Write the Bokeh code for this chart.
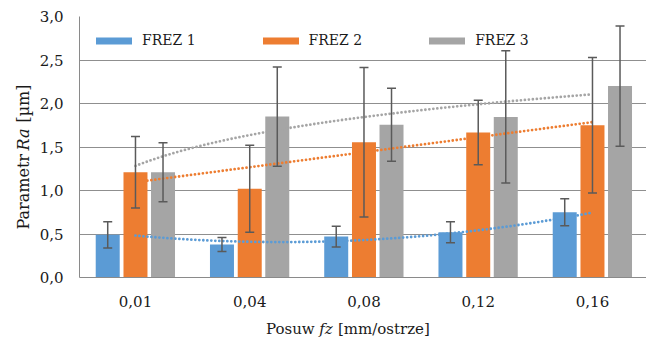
import numpy as np
from bokeh.plotting import figure
from bokeh.layouts import row, column
from bokeh.models import (ColumnDataSource, Whisker, TeeHead, FixedTicker, Legend,
                          LegendItem, Label, Range1d)
from bokeh.embed import file_html
from bokeh.resources import INLINE

# ---- data ----
categories = ["0,01", "0,04", "0,08", "0,12", "0,16"]
frez1 = [0.49, 0.38, 0.47, 0.52, 0.75]
frez1_err = [0.15, 0.08, 0.12, 0.12, 0.155]
frez2 = [1.21, 1.02, 1.555, 1.667, 1.75]
frez2_err = [0.41, 0.50, 0.86, 0.37, 0.78]
frez3 = [1.21, 1.85, 1.755, 1.845, 2.20]
frez3_err = [0.34, 0.57, 0.42, 0.76, 0.69]
series_names = ["FREZ 1", "FREZ 2", "FREZ 3"]
y_ticks = [0.0, 0.5, 1.0, 1.5, 2.0, 2.5, 3.0]
y_tick_labels = ["0,0", "0,5", "1,0", "1,5", "2,0", "2,5", "3,0"]

colors = ["#5B9BD5", "#ED7D31", "#A5A5A5"]
err_color = "#5a5a5a"
text_color = "#1a1a1a"
FONT = "DejaVu Serif"

TOTAL_W, TOTAL_H = 646, 338
WY = 36                  # strip holding the y title
FRAME_L, FRAME_T, FRAME_B = 79, 16, 277
HP = 314                 # main chart height
PW = TOTAL_W - WY
px_per_cat = 114.25
frame_w = PW - (FRAME_L - WY)
x_start = 0.01

p = figure(width=PW, height=HP, output_backend="svg", toolbar_location=None,
           x_range=Range1d(x_start, x_start + frame_w / px_per_cat), y_range=Range1d(0, 3.0),
           min_border_left=FRAME_L - WY, min_border_right=0, min_border_top=FRAME_T,
           min_border_bottom=HP - FRAME_B)
p.outline_line_color = None
p.background_fill_color = "white"
p.border_fill_color = "white"

centers = np.arange(len(categories)) + 0.5
offsets = [-0.243, 0.0, 0.241]
bar_w = 0.21

all_vals = [frez1, frez2, frez3]
all_errs = [frez1_err, frez2_err, frez3_err]
bar_renderers = []
for vals, errs, off, col in zip(all_vals, all_errs, offsets, colors):
    src = ColumnDataSource(dict(x=centers + off, top=vals,
                                upper=np.array(vals) + np.array(errs),
                                lower=np.array(vals) - np.array(errs)))
    r = p.vbar(x="x", top="top", width=bar_w, source=src, fill_color=col,
               line_color=col, line_width=0)
    bar_renderers.append((r, src))

# trendlines (fits of the bar values, as spreadsheet trendlines are)
idx = np.arange(1, len(categories) + 1)
xs = np.linspace(1, 5, 80)
t1 = np.polyval(np.polyfit(idx, frez1, 2), xs)
t2 = np.polyval(np.polyfit(idx, frez2, 1), xs)
t3 = np.polyval(np.polyfit(np.log(idx), frez3, 1), np.log(xs))
for t, col in zip([t1, t2, t3], colors):
    p.line(xs - 0.5, t, line_color=col, line_width=2.8, line_dash="0 4", line_cap="round")

for (r, src) in bar_renderers:
    w = Whisker(base="x", upper="upper", lower="lower", source=src, dimension="height",
                line_color=err_color, line_width=1.5, level="overlay",
                upper_head=TeeHead(size=9, line_color=err_color, line_width=1.5),
                lower_head=TeeHead(size=9, line_color=err_color, line_width=1.5))
    p.add_layout(w)

# axes
p.xgrid.visible = False
p.ygrid.grid_line_color = "#8f8f8f"
p.ygrid.grid_line_width = 1
p.yaxis.ticker = FixedTicker(ticks=y_ticks)
p.yaxis.major_label_overrides = {t: l for t, l in zip(y_ticks, y_tick_labels)}
p.xaxis.ticker = FixedTicker(ticks=list(centers))
p.xaxis.major_label_overrides = {float(c): l for c, l in zip(centers, categories)}
for ax in (p.xaxis, p.yaxis):
    ax.major_tick_in = 0
    ax.major_tick_out = 0
    ax.minor_tick_in = 0
    ax.minor_tick_out = 0
    ax.axis_line_color = "#8a8a8a"
    ax.axis_line_width = 1
    ax.major_label_text_font = FONT
    ax.major_label_text_font_size = "15px"
    ax.major_label_text_color = text_color
p.yaxis.major_label_standoff = 16
p.xaxis.major_label_standoff = 18

# legend
legend = Legend(items=[LegendItem(label=n, renderers=[r]) for n, (r, _) in zip(series_names, bar_renderers)],
                orientation="horizontal", location=(12, 229), padding=0, margin=0,
                spacing=62, glyph_width=45, glyph_height=9, label_standoff=6,
                label_text_font=FONT, label_text_font_size="14px", label_text_color=text_color,
                background_fill_alpha=0, border_line_alpha=0)
p.add_layout(legend)

# ---- x title strip ----
XH = TOTAL_H - HP
xfig = figure(width=PW, height=XH, output_backend="svg", toolbar_location=None, title=None,
              x_range=Range1d(0, PW), y_range=Range1d(0, XH),
              x_axis_location=None, y_axis_location=None,
              min_border=0, min_border_left=0, min_border_right=0,
              min_border_top=0, min_border_bottom=0)
xfig.outline_line_color = None
xfig.grid.visible = False
S = 15
xb = TOTAL_H - 328.0
x_parts = [("Posuw", "normal", 289.0 - WY, "right"),
           ("fz", "italic", 294.0 - WY, "left"),
           ("[mm/ostrze]", "normal", 314.0 - WY, "left")]
for txt, style, xx, al in x_parts:
    xfig.add_layout(Label(x=xx, y=xb, text=txt, text_font=FONT, text_font_style=style,
                          text_font_size=f"{S}px", text_color=text_color,
                          text_align=al, text_baseline="alphabetic"))

# ---- y title strip ----
yfig = figure(width=WY, height=TOTAL_H, output_backend="svg", toolbar_location=None, title=None,
              x_range=Range1d(0, WY), y_range=Range1d(0, TOTAL_H),
              x_axis_location=None, y_axis_location=None,
              min_border=0, min_border_left=0, min_border_right=0,
              min_border_top=0, min_border_bottom=0)
yfig.outline_line_color = None
yfig.grid.visible = False
S2 = 16
ybase_x = 23.0
y_parts = [("Parametr", "normal", TOTAL_H - 229, "left"),
           ("Ra", "italic", TOTAL_H - 150, "left"),
           ("[µm]", "normal", TOTAL_H - 84, "right")]
for txt, style, yy, al in y_parts:
    yfig.add_layout(Label(x=ybase_x, y=yy, text=txt, angle=np.pi / 2,
                          text_font=FONT, text_font_style=style,
                          text_font_size=f"{S2}px", text_color=text_color,
                          text_align=al, text_baseline="alphabetic"))

layout = row(yfig, column(p, xfig, spacing=0), spacing=0)
open("out.html", "w").write(file_html(layout, INLINE))
